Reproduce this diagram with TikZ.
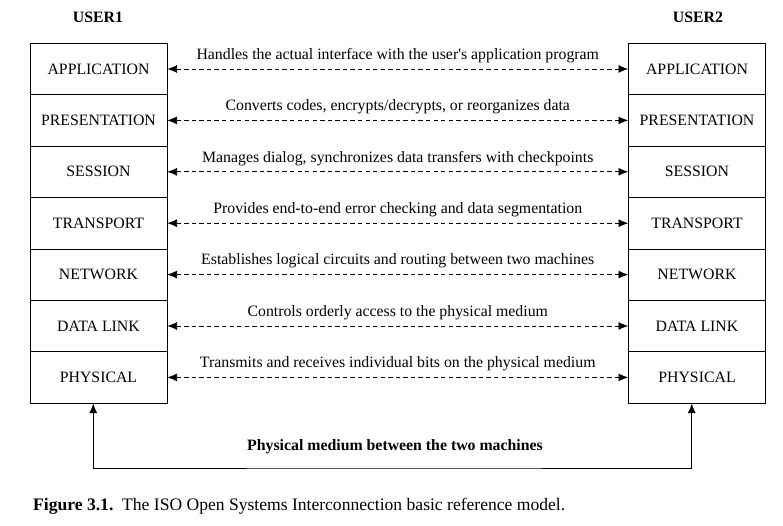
\documentclass[tikz,border=0pt]{standalone}
\usepackage{fontspec}
\setmainfont{Liberation Serif}
\usetikzlibrary{positioning,arrows.meta}
\begin{document}
\begin{tikzpicture}[x=0.02cm,y=-0.02cm,font=\fontsize{9}{11}\selectfont,
  >={Latex[length=5.5pt,width=4.5pt]},
  layer/.style={draw,minimum width=2.74cm,minimum height=1.028cm,inner sep=0pt},
  peer/.style={dash pattern=on 2.5pt off 1.8pt,<->},
  user/.style={font=\fontsize{9}{11}\selectfont\bfseries}]
\useasboundingbox (0,0) rectangle (783,526);
\node[user] (u1) at (98,17) {USER1};
\node[user] (u2) at (698,17) {USER2};
\foreach \n/\d [count=\i] in {
  APPLICATION/Handles the actual interface with the user\textquotesingle s application program,
  PRESENTATION/{Converts codes, encrypts\slash decrypts, or reorganizes data},
  SESSION/{Manages dialog, synchronizes data transfers with checkpoints},
  TRANSPORT/Provides end-to-end error checking and data segmentation,
  NETWORK/Establishes logical circuits and routing between two machines,
  DATA LINK/Controls orderly access to the physical medium,
  PHYSICAL/Transmits and receives individual bits on the physical medium}  {
  \node[layer] (l\i) at (98.5,{69+51.4*(\i-1)}) {\n};
  \node[layer] (r\i) at (697,{69+51.4*(\i-1)}) {\n};
  \draw[peer] (l\i) -- node[above] (d\i) {\d} (r\i);
}
\coordinate (m) at (395,468);
\draw[<->] ([xshift=-3]l7.south) |- (m) -| ([xshift=-3]r7.south);
\node[font=\fontsize{9}{11}\selectfont\bfseries] (medium) at (395,447) {Physical medium between the two machines};
\node[anchor=west,font=\fontsize{10}{12}\selectfont] (cap) at (27,506) {\textbf{Figure 3.1.}\ \ The ISO Open Systems Interconnection basic reference model.};
\end{tikzpicture}
\end{document}
